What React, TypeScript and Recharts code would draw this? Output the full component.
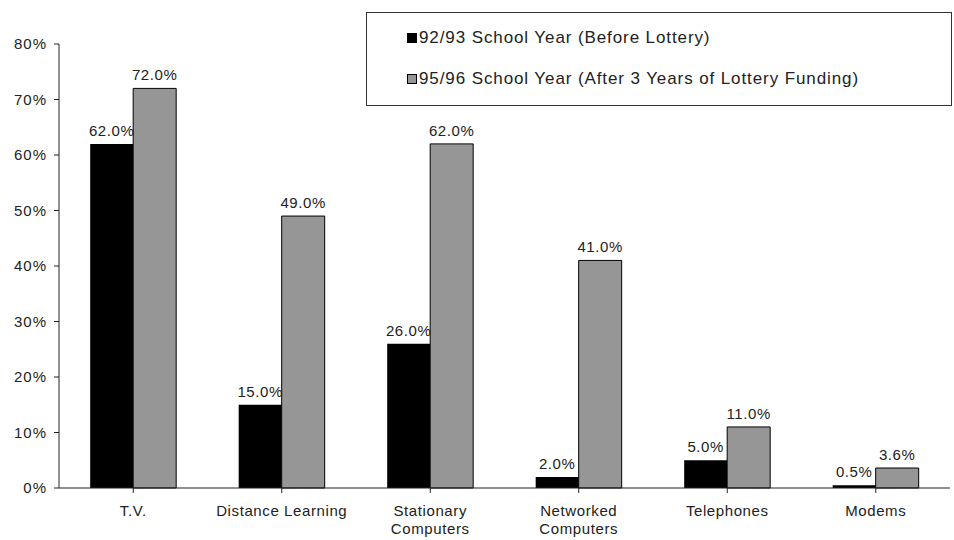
import { BarChart, Bar, XAxis, YAxis, LabelList } from 'recharts';

const categories = ['T.V.', 'Distance Learning', 'Stationary\nComputers', 'Networked\nComputers', 'Telephones', 'Modems'];
const before = [62.0, 15.0, 26.0, 2.0, 5.0, 0.5];
const after = [72.0, 49.0, 62.0, 41.0, 11.0, 3.6];
const yTicks = [0, 10, 20, 30, 40, 50, 60, 70, 80];
const seriesNames = ['92/93 School Year (Before Lottery)', '95/96 School Year (After 3 Years of Lottery Funding)'];
const seriesColors = ['#000', '#969696'];

const data = categories.map((name, i) => ({ name, before: before[i], after: after[i] }));

const font = '"Liberation Sans", Arial, sans-serif';

// multi-line category labels
function CategoryTick(props: any) {
    const { x, y, payload } = props;
    const lines = String(payload.value).split('\n');
    return (
        <text x={x} y={y + 21} textAnchor="middle" fontSize={15} letterSpacing={0.6} fill="#222" fontFamily={font}>
            {lines.map((l, i) => (
                <tspan key={i} x={x} dy={i === 0 ? 0 : 18}>{l}</tspan>
            ))}
        </text>
    );
}

// boxed legend sitting top-right, over the plot
function LegendBox() {
    return (
        <div style={{ position: 'absolute', left: 366, top: 12, width: 586, height: 94, border: '1px solid #333', boxSizing: 'border-box', background: '#fff', fontFamily: font, fontSize: 17, letterSpacing: 0.9, color: '#222' }}>
            {seriesNames.map((n, i) => (
                <div key={n} style={{ position: 'absolute', left: 40, top: i === 0 ? 15 : 56, display: 'flex', alignItems: 'center', whiteSpace: 'nowrap' }}>
                    <span style={{ display: 'inline-block', width: 10, height: 10, background: seriesColors[i], border: '1px solid #000', marginRight: 2, boxSizing: 'border-box' }} />
                    {n}
                </div>
            ))}
        </div>
    );
}

export default function App() {
    const fmt = (v: any) => `${Number(v).toFixed(1)}%`;
    const labelStyle = { fill: '#222', fontSize: 15, letterSpacing: 0.6, fontFamily: font };
    return (
        <div style={{ position: 'absolute', left: 0, top: 0, width: 954, height: 540, background: '#fff' }}>
            <BarChart width={954} height={540} data={data} margin={{ top: 44, right: 4, bottom: 0, left: 0 }} barCategoryGap="21%" barGap={0}>
                <YAxis
                    width={59}
                    domain={[0, 80]}
                    ticks={yTicks}
                    interval={0}
                    tickFormatter={(v: number) => `${v}%`}
                    stroke="#222"
                    tickSize={5}
                    tick={{ fill: '#222', fontSize: 15, letterSpacing: 1, fontFamily: font, dx: -5 }}
                />
                <XAxis dataKey="name" height={52} stroke="#222" tickSize={5} tick={<CategoryTick />} interval={0} />
                <Bar dataKey="before" name={seriesNames[0]} fill={seriesColors[0]} isAnimationActive={false}>
                    <LabelList dataKey="before" position="top" offset={8} formatter={fmt} style={labelStyle} />
                </Bar>
                <Bar dataKey="after" name={seriesNames[1]} fill={seriesColors[1]} stroke="#000" strokeWidth={1} isAnimationActive={false}>
                    <LabelList dataKey="after" position="top" offset={8} formatter={fmt} style={labelStyle} />
                </Bar>
            </BarChart>
            <LegendBox />
        </div>
    );
}
